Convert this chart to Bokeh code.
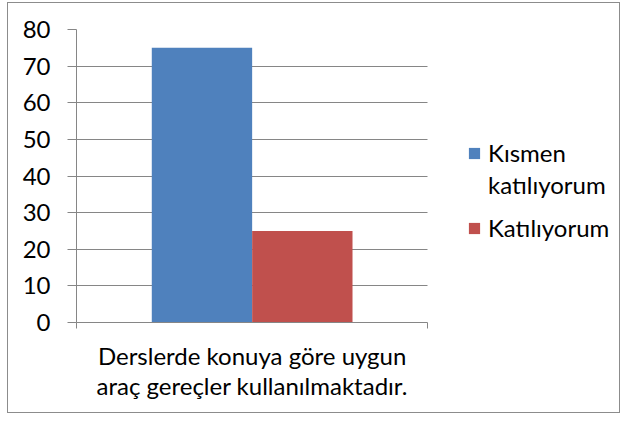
from bokeh.plotting import figure
from bokeh.models import (Range1d, FixedTicker, Legend, LegendItem, ColumnDataSource)
from bokeh.embed import file_html
from bokeh.resources import INLINE

categories = ["Derslerde konuya göre uygun\naraç gereçler kullanılmaktadır."]
series_names = ["Kısmen\nkatılıyorum", "Katılıyorum"]
series_values = [75, 25]
series_colors = ["#4F81BD", "#C0504D"]
y_ticks = [0, 10, 20, 30, 40, 50, 60, 70, 80]

FONT = "Lato"
FS = "24px"
GRAY = "#868686"

# plot area: x in [0, 1] is the category slot (350 px); the frame is widened
# to the right so the legend can sit inside it.
frame_px = 540
slot_px = 350
p = figure(width=613, height=411, output_backend="svg", toolbar_location=None,
           x_range=Range1d(0, frame_px / slot_px), y_range=Range1d(0, 80),
           min_border_left=68, min_border_right=3, min_border_top=26,
           min_border_bottom=92)
p.styles = {"border": "1px solid #8c8c8c", "box-sizing": "border-box",
            "margin-left": "7px", "margin-top": "2px"}
p.outline_line_color = None
p.background_fill_color = "white"
p.border_fill_color = "white"

p.xgrid.grid_line_color = None
p.ygrid.grid_line_color = GRAY
p.ygrid.ticker = FixedTicker(ticks=y_ticks)
p.ygrid.cross_bounds = (0, 1)

# y axis
p.yaxis.ticker = FixedTicker(ticks=y_ticks)
p.yaxis.axis_line_color = GRAY
p.yaxis.major_tick_line_color = GRAY
p.yaxis.major_tick_out = 9
p.yaxis.major_tick_in = 0
p.yaxis.minor_tick_line_color = None
p.yaxis.major_label_text_font = FONT
p.yaxis.major_label_text_font_size = FS
p.yaxis.major_label_text_color = "black"
p.yaxis.major_label_standoff = 17

# x axis: one category in the middle, edge ticks as minor ticks
p.xaxis.bounds = (0, 1)
p.xaxis.ticker = FixedTicker(ticks=[0.5], minor_ticks=[0, 1])
p.xaxis.major_label_overrides = {0.5: categories[0]}
p.xaxis.axis_line_color = GRAY
p.xaxis.major_tick_line_color = None
p.xaxis.major_tick_out = 0
p.xaxis.minor_tick_line_color = GRAY
p.xaxis.minor_tick_out = 6
p.xaxis.minor_tick_in = 0
p.xaxis.major_label_text_font = FONT
p.xaxis.major_label_text_font_size = FS
p.xaxis.major_label_text_color = "black"
p.xaxis.major_label_text_line_height = 1.05
p.xaxis.major_label_standoff = 12

n = len(series_values)
bar_w = 0.2857
renderers = []
for i, (val, col) in enumerate(zip(series_values, series_colors)):
    xc = 0.5 + (i - (n - 1) / 2) * bar_w
    src = ColumnDataSource(dict(x=[xc], top=[val]))
    r = p.vbar(x="x", top="top", bottom=0, width=bar_w, source=src,
               fill_color=col, line_color=None)
    renderers.append(r)

# invisible marker for the wrapped second line of the first legend entry
blank = p.vbar(x=[], top=[], width=0.1, fill_alpha=0, line_alpha=0)

first_lines = series_names[0].split("\n")
leg_kw = dict(padding=0, margin=0, border_line_color=None, background_fill_alpha=0,
              glyph_width=14, glyph_height=14, label_standoff=7,
              label_text_font=FONT, label_text_font_size=FS, label_text_color="black")

legend1 = Legend(items=[LegendItem(label=first_lines[0], renderers=[renderers[0]]),
                        LegendItem(label=first_lines[1], renderers=[blank])],
                 location=(391, 123), spacing=3, **leg_kw)
legend2 = Legend(items=[LegendItem(label=series_names[1], renderers=[renderers[1]])],
                 location=(391, 80), **leg_kw)
p.add_layout(legend1, "center")
p.add_layout(legend2, "center")

open("out.html", "w").write(file_html(p, INLINE))
